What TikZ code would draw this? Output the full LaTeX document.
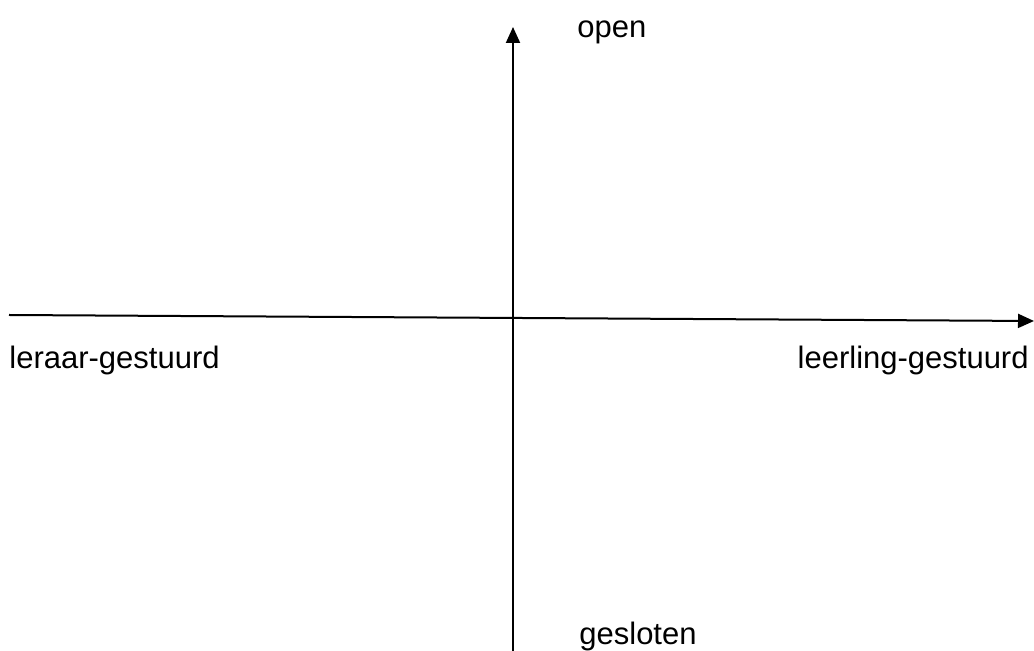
\documentclass[tikz,border=0pt]{standalone}
\usepackage{fontspec}
\setmainfont{Liberation Sans}
\usetikzlibrary{arrows.meta}
\begin{document}
\begin{tikzpicture}[x=0.5pt,y=-0.5pt,
  axis/.style={line width=1pt,-{Triangle[length=8pt,width=7pt]}},
  lbl/.style={inner sep=0pt,font=\fontsize{15.5}{18}\selectfont}]
\useasboundingbox (0,0) rectangle (1034,651);
\coordinate (bottom) at (513,652);
\coordinate (top) at (513,27);
\coordinate (left) at (9,315);
\coordinate (right) at (1034,321);
\draw[axis] (bottom) -- (top);
\draw[axis] (left) -- (right);
\node[lbl,anchor=base west] (open) at (577,38) {open};
\node[lbl,anchor=base west] (gesloten) at (579,645) {gesloten};
\node[lbl,anchor=base west] (leraar) at (9,369) {leraar-gestuurd};
\node[lbl,anchor=base east] (leerling) at (1029,369) {leerling-gestuurd};
\end{tikzpicture}
\end{document}
